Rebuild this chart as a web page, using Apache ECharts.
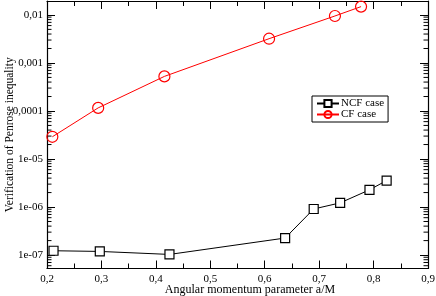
<!DOCTYPE html>
<html>
<head>
<meta charset="utf-8">
<script src="https://cdn.jsdelivr.net/npm/echarts@6/dist/echarts.min.js"></script>
<style>html,body{margin:0;padding:0;background:#fff;}#c{width:436px;height:296px;}</style>
</head>
<body>
<div id="c"></div>
<script>
const ncfX = [0.212, 0.297, 0.425, 0.6375, 0.690, 0.7386, 0.7925, 0.824];
const ncfY = [1.23e-7, 1.19e-7, 1.03e-7, 2.26e-7, 9.1e-7, 1.22e-6, 2.28e-6, 3.56e-6];
const cfX = [0.2098, 0.294, 0.4157, 0.608, 0.729, 0.777];
const cfY = [2.9e-5, 1.16e-4, 5.25e-4, 3.2e-3, 9.5e-3, 0.0149];
const yTickExp = [-7, -6, -5, -4, -3, -2];
const yTickLabels = ['1e-07', '1e-06', '1e-05', '0,0001', '0,001', '0,01'];
const seriesNames = ['NCF case', 'CF case'];

const FONT = 'Liberation Serif';
const chart = echarts.init(document.getElementById('c'), null, {renderer: 'canvas'});
const yMin = Math.pow(10, -7.28), yMax = Math.pow(10, -1.71);

function yFmt(v) {
  if (typeof v === 'object' && v !== null) v = v.value;
  v = Number(v);
  const l = v > 0 ? Math.log10(v) : v;
  const e = Math.round(l);
  if (Math.abs(l - e) > 0.01) return '';
  const i = yTickExp.indexOf(e);
  return i >= 0 ? yTickLabels[i] : '';
}
const axisLineStyle = {color: '#000', width: 1.2};
const grid = {left: 47, right: 8, top: 1, bottom: 27.5, outerBoundsMode: 'none', containLabel: false};

chart.setOption({
  animation: false,
  backgroundColor: '#fff',
  grid: grid,
  legend: {
    orient: 'vertical', left: 312, top: 96, itemGap: 0,
    itemWidth: 22, itemHeight: 9,
    padding: [2, 4, 2, 4],
    borderColor: '#000', borderWidth: 1,
    textStyle: {fontFamily: FONT, fontSize: 11, color: '#000', padding: [0, 0, 0, -3]},
    data: seriesNames
  },
  xAxis: [{
    type: 'value', min: 0.2, max: 0.9, interval: 0.1,
    name: 'Angular momentum parameter a/M', nameLocation: 'middle', nameGap: 15,
    nameMoveOverlap: false,
    nameTextStyle: {fontFamily: FONT, fontSize: 12, color: '#000', padding: [0, 0, 0, 25]},
    axisLine: {lineStyle: axisLineStyle},
    axisTick: {inside: true, length: 8, lineStyle: {color: '#000'}},
    minorTick: {show: true, splitNumber: 2, length: 5, lineStyle: {color: '#000'}},
    axisLabel: {fontFamily: FONT, fontSize: 11, color: '#000', margin: 5,
      formatter: v => v.toFixed(1).replace('.', ',')},
    splitLine: {show: false}
  }, {
    type: 'value', min: 0.2, max: 0.9, interval: 0.1, position: 'top',
    axisLine: {lineStyle: axisLineStyle},
    axisTick: {inside: true, length: 8, lineStyle: {color: '#000'}},
    minorTick: {show: true, splitNumber: 2, length: 5, lineStyle: {color: '#000'}},
    axisLabel: {show: false}, splitLine: {show: false}
  }],
  yAxis: [{
    type: 'log', logBase: 10, min: yMin, max: yMax,
    name: 'Verification of Penrose inequality', nameLocation: 'middle', nameGap: 31,
    nameMoveOverlap: false,
    nameTextStyle: {fontFamily: FONT, fontSize: 11.5, color: '#000'},
    axisLine: {lineStyle: axisLineStyle},
    axisTick: {inside: true, length: 8, lineStyle: {color: '#000'}},
    axisLabel: {fontFamily: FONT, fontSize: 11, color: '#000', margin: 4,
      showMinLabel: false, showMaxLabel: false, hideOverlap: false, formatter: yFmt},
    splitLine: {show: false}
  }, {
    type: 'log', logBase: 10, min: yMin, max: yMax, position: 'right',
    axisLine: {lineStyle: axisLineStyle},
    axisTick: {inside: true, length: 8, lineStyle: {color: '#000'}},
    axisLabel: {show: false}, splitLine: {show: false}
  }],
  series: [{
    name: seriesNames[0], type: 'line',
    data: ncfX.map((x, i) => [x, ncfY[i]]),
    symbol: 'rect', symbolSize: 9,
    lineStyle: {color: '#000', width: 1},
    itemStyle: {color: '#fff', borderColor: '#000', borderWidth: 1.2},
    color: '#000'
  }, {
    name: seriesNames[1], type: 'line',
    data: cfX.map((x, i) => [x, cfY[i]]),
    symbol: 'circle', symbolSize: 11,
    lineStyle: {color: '#ff0000', width: 1},
    itemStyle: {color: 'rgba(255,255,255,0)', borderColor: '#ff0000', borderWidth: 1.2},
    color: '#ff0000'
  }]
});

const left = grid.left, right = 436 - grid.right;
const lines = [];
for (let d = -8; d <= -2; d++) {
  for (let m = 2; m <= 9; m++) {
    const v = m * Math.pow(10, d);
    if (v <= yMin || v >= yMax) continue;
    const y = chart.convertToPixel({yAxisIndex: 0}, v);
    lines.push({type: 'line', shape: {x1: left, y1: y, x2: left + 4.5, y2: y}, style: {stroke: '#000', lineWidth: 1}, silent: true});
    lines.push({type: 'line', shape: {x1: right - 4.5, y1: y, x2: right, y2: y}, style: {stroke: '#000', lineWidth: 1}, silent: true});
  }
}
chart.setOption({graphic: lines});
</script>
</body>
</html>
